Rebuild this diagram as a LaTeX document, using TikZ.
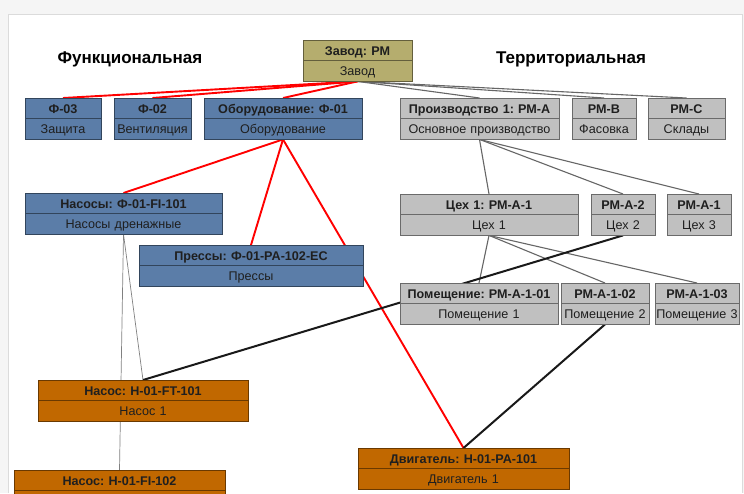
\documentclass[tikz,border=0pt]{standalone}
\usepackage{fontspec}
\setmainfont{Liberation Sans}
\usetikzlibrary{shapes.multipart,backgrounds}
\frenchspacing

\definecolor{plantolive}{RGB}{181,173,110}
\definecolor{funcblue}{RGB}{91,125,168}
\definecolor{terrgray}{RGB}{192,192,192}
\definecolor{unitorange}{RGB}{193,104,0}

% two-row card text: bold code on top, name below
\newcommand{\cardtext}[2]{\textbf{#1}\rule[-5pt]{0pt}{19.5pt}\nodepart{two}#2\rule[-5pt]{0pt}{19.5pt}}

\begin{document}
\begin{tikzpicture}[x=1pt, y=-1pt,
	card/.style={rectangle split, rectangle split parts=2, fill=#1, draw=#1!55!black, line width=0.8pt,
		anchor=north, inner xsep=0pt, inner ysep=0pt, align=center, text=black!88,
		font=\fontsize{12.6}{14}\selectfont},
	title/.style={font=\bfseries\fontsize{17}{20}\selectfont},
	redlink/.style={red, line width=1.9pt},
	graylink/.style={black!60, line width=1.1pt},
	thinlink/.style={black!50, line width=0.7pt},
	blacklink/.style={black!90, line width=2pt}]
	\useasboundingbox (0,0) rectangle (744,493);
	% titles
	\node[title] (functitle) at (130,59) {Функциональная};
	\node[title] (terrtitle) at (571,59) {Территориальная};
	% plant
	\node[card=plantolive, text width=109pt] (zavod) at (357.5,40) {\cardtext{Завод: РМ}{Завод}};
	% functional side
	\node[card=funcblue, text width=76pt] (f03) at (63,98) {\cardtext{Ф-03}{Защита}};
	\node[card=funcblue, text width=77pt] (f02) at (152.5,98) {\cardtext{Ф-02}{Вентиляция}};
	\node[card=funcblue, text width=158pt] (f01) at (283,98) {\cardtext{Оборудование: Ф-01}{Оборудование}};
	\node[card=funcblue, text width=197pt] (nasosy) at (123.5,193) {\cardtext{Насосы: Ф-01-FI-101}{Насосы дренажные}};
	\node[card=funcblue, text width=224pt] (pressy) at (251,245) {\cardtext{Прессы: Ф-01-PA-102-EC}{Прессы}};
	% territorial side
	\node[card=terrgray, text width=159pt] (proizv) at (479.5,98) {\cardtext{Производство 1: РМ-А}{Основное производство}};
	\node[card=terrgray, text width=64pt] (rmb) at (604,98) {\cardtext{РМ-В}{Фасовка}};
	\node[card=terrgray, text width=77pt] (rmc) at (686.5,98) {\cardtext{РМ-С}{Склады}};
	\node[card=terrgray, text width=178pt] (ceh1) at (489,194) {\cardtext{Цех 1: РМ-А-1}{Цех 1}};
	\node[card=terrgray, text width=64pt] (rma2) at (623,194) {\cardtext{РМ-А-2}{Цех 2}};
	\node[card=terrgray, text width=64pt] (rma1) at (699,194) {\cardtext{РМ-А-1}{Цех 3}};
	\node[card=terrgray, text width=158pt] (pom1) at (479,283) {\cardtext{Помещение: РМ-А-1-01}{Помещение 1}};
	\node[card=terrgray, text width=88pt] (pom2) at (605,283) {\cardtext{РМ-А-1-02}{Помещение 2}};
	\node[card=terrgray, text width=84pt] (pom3) at (697,283) {\cardtext{РМ-А-1-03}{Помещение 3}};
	% units
	\node[card=unitorange, text width=210pt] (ft101) at (143,380) {\cardtext{Насос: H-01-FT-101}{Насос 1}};
	\node[card=unitorange, text width=211pt] (fi102) at (119.5,470) {\cardtext{Насос: H-01-FI-102}{}};
	\node[card=unitorange, text width=211pt] (dvig) at (463.5,448) {\cardtext{Двигатель: H-01-PA-101}{Двигатель 1}};
	\begin{pgfonlayer}{background}
		% screenshot frame
		\fill[black!4] (0,0) rectangle (744,493);
		\fill[white] (8,14) rectangle (742,493);
		\draw[black!14, line width=0.8pt] (8,493) |- (742,14) -- (742,493);
		% links
		\foreach \n in {f03,f02,f01} {\draw[redlink] (zavod.south) -- (\n.north);}
		\foreach \n in {nasosy,pressy,dvig} {\draw[redlink] (f01.south) -- (\n.north);}
		\foreach \n in {proizv,rmb,rmc} {\draw[graylink] (zavod.south) -- (\n.north);}
		\foreach \n in {ceh1,rma2,rma1} {\draw[graylink] (proizv.south) -- (\n.north);}
		\foreach \n in {pom1,pom2,pom3} {\draw[graylink] (ceh1.south) -- (\n.north);}
		\draw[thinlink] (nasosy.south) -- (ft101.north);
		\draw[thinlink] (nasosy.south) -- (fi102.north);
		\draw[blacklink] (ft101.north) -- (rma2.south);
		\draw[blacklink] (pom2.south) -- (dvig.north);
	\end{pgfonlayer}
\end{tikzpicture}
\end{document}
